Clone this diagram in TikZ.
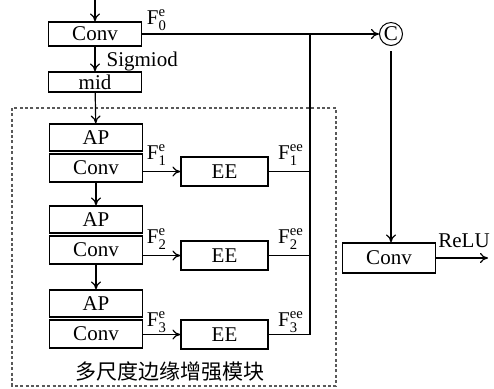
\documentclass[tikz,border=0pt]{standalone}
\usepackage{amsmath}
\usepackage{fontspec}
\setmainfont{Liberation Serif}
\newfontfamily\cjk{Noto Sans CJK SC}
\usetikzlibrary{arrows.meta}
\tikzset{box/.style = {draw, minimum width = 46.5pt, minimum height = 14pt, inner sep = 0, line width = 0.6pt},
  apbox/.style = {box, minimum height = 13.5pt},
  eebox/.style = {box, minimum width = 43.5pt, minimum height = 14.5pt},
  lbl/.style = {inner sep = 1pt}}
\definecolor{mgray}{rgb}{0.35, 0.35, 0.35}
\newcommand{\fe}[2]{F$^{\textrm{#1}}_{\textrm{#2}}$}

\begin{document}
\begin{tikzpicture}[x=0.5pt, y=-0.5pt, >={To[length=4pt, width=5pt]}, line width=0.6pt,
    every node/.style={font=\fontsize{10.5}{12.6}\selectfont}]
      \useasboundingbox (0, 0) rectangle (494, 388);
      \draw [mgray, dash pattern=on 1.5pt off 1.2pt] (12, 108) rectangle (336, 386);
      \coordinate (in) at (95, 0);
      \node [box, minimum height = 12pt] (conv0) at (95, 34) {Conv};
      \node [box, minimum height = 10pt] (mid) at (95, 82) {mid};
      \node [apbox] (ap1) at (96, 137.5) {AP};
      \node [box] (conv1) at (96, 168) {Conv};
      \node [apbox] (ap2) at (96, 219.5) {AP};
      \node [box] (conv2) at (96, 250) {Conv};
      \node [apbox] (ap3) at (96, 303.5) {AP};
      \node [box] (conv3) at (96, 334) {Conv};
      \node [eebox] (ee1) at (224.5, 171.5) {EE};
      \node [eebox] (ee2) at (224.5, 255.5) {EE};
      \node [eebox] (ee3) at (224.5, 334.5) {EE};
      \node [draw, circle, inner sep = 0, minimum size = 11.5pt, line width = 0.5pt] (cat) at (391, 34) {C};
      \node [box, minimum height = 15pt] (convr) at (389, 258) {Conv};
      \coordinate (bus) at (310, 34);
      \coordinate (out) at (488, 258);
      \draw [->] (in) -- (conv0);
      \draw [->] (conv0) -- (mid);
      \draw [->] (mid) -- (ap1);
      \draw [->] (conv1) -- (ap2);
      \draw [->] (conv2) -- (ap3);
      \draw [->] (conv0) -- (cat);
      \draw [->] (conv1.east |- ee1) -- (ee1);
      \draw [->] (conv2.east |- ee2) -- (ee2);
      \draw [->] (conv3.east |- ee3) -- (ee3);
      \draw (ee1) -- (ee1 -| bus);
      \draw (ee2) -- (ee2 -| bus);
      \draw (ee3) -| (bus);
      \draw [->, shorten <= 2.5pt] (cat) -- (cat |- convr.north);
      \draw [->] (convr) -- (out);
      \node [lbl] at (157, 20) {\fe{e}{0}};
      \node [lbl, anchor = west] at (104, 61) {Sigmiod};
      \node [lbl] at (157, 155) {\fe{e}{1}};
      \node [lbl] at (157, 239) {\fe{e}{2}};
      \node [lbl] at (157, 322) {\fe{e}{3}};
      \node [lbl] at (291, 155) {\fe{ee}{1}};
      \node [lbl] at (291, 239) {\fe{ee}{2}};
      \node [lbl] at (291, 322) {\fe{ee}{3}};
      \node [lbl] at (464, 241) {ReLU};
      \node [lbl] at (170, 372) {\cjk 多尺度边缘增强模块};
    \end{tikzpicture}
\end{document}
